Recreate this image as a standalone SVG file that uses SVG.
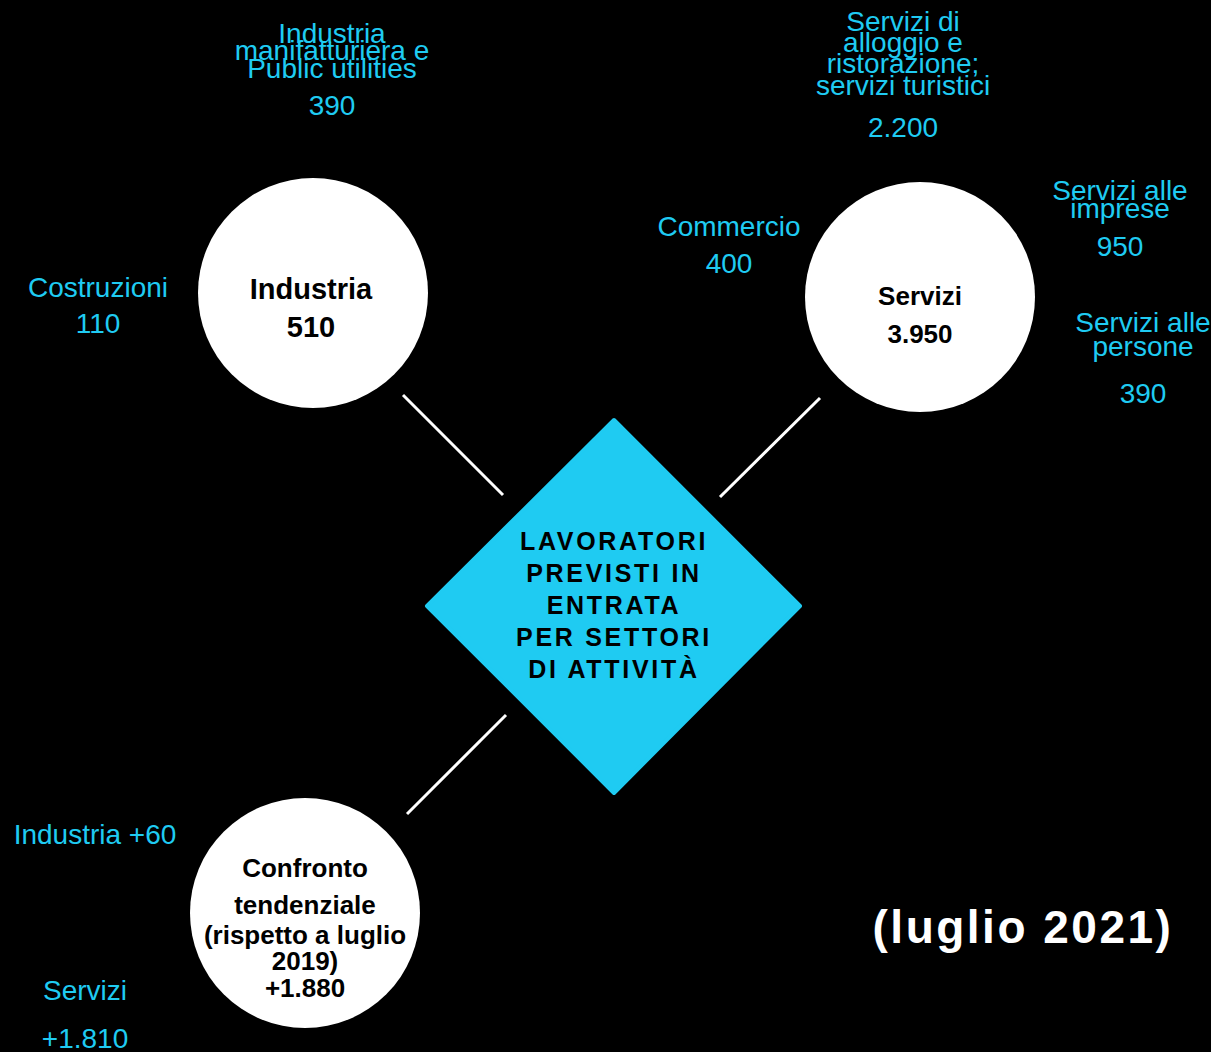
<svg xmlns="http://www.w3.org/2000/svg" width="1211" height="1052" viewBox="0 0 1211 1052">
<style>
.lbl{font-family:"Liberation Sans",Arial,sans-serif;font-size:28px;fill:#1fcbf2;text-anchor:middle}
.nd{font-family:"Liberation Sans",Arial,sans-serif;font-weight:bold;fill:#000;text-anchor:middle}
.circ{fill:#fff}
.conn line{stroke:#fff;stroke-width:3}
</style>
<rect width="1211" height="1052" fill="#000"/>
<g class="conn" id="connectors">
<line x1="403" y1="395" x2="503" y2="495"/>
<line x1="820" y1="398" x2="720" y2="497"/>
<line x1="506" y1="715" x2="407" y2="814"/>
</g>
<g id="center">
<path d="M614 420 L800 606 L614 793 L427 606 Z" fill="#1fcbf2" stroke="#1fcbf2" stroke-width="4" stroke-linejoin="round"/>
<g class="nd" style="font-size:25px;letter-spacing:2.7px">
<text x="614" y="550">LAVORATORI</text>
<text x="614" y="582">PREVISTI IN</text>
<text x="614" y="614">ENTRATA</text>
<text x="614" y="646">PER SETTORI</text>
<text x="614" y="678">DI ATTIVITÀ</text>
</g>
</g>
<g id="industria">
<circle class="circ" cx="313" cy="293" r="115"/>
<text class="nd" x="311" y="299" font-size="29">Industria</text>
<text class="nd" x="311" y="337" font-size="29">510</text>
</g>
<g id="servizi">
<circle class="circ" cx="920" cy="297" r="115"/>
<text class="nd" x="920" y="305" font-size="26">Servizi</text>
<text class="nd" x="920" y="343" font-size="26">3.950</text>
</g>
<g id="confronto">
<circle class="circ" cx="305" cy="913" r="115"/>
<g class="nd" font-size="26">
<text x="305" y="877">Confronto</text>
<text x="305" y="914">tendenziale</text>
<text x="305" y="944">(rispetto a luglio</text>
<text x="305" y="970">2019)</text>
<text x="305" y="997">+1.880</text>
</g>
</g>
<g id="lbl-manifattura" class="lbl">
<text x="332" y="43">Industria</text>
<text x="332" y="60">manifatturiera e</text>
<text x="332" y="78">Public utilities</text>
<text x="332" y="115">390</text>
</g>
<g id="lbl-alloggio" class="lbl">
<text x="903" y="31">Servizi di</text>
<text x="903" y="52">alloggio e</text>
<text x="903" y="73">ristorazione;</text>
<text x="903" y="95">servizi turistici</text>
<text x="903" y="137">2.200</text>
</g>
<g id="lbl-imprese" class="lbl">
<text x="1120" y="200">Servizi alle</text>
<text x="1120" y="218">imprese</text>
<text x="1120" y="256">950</text>
</g>
<g id="lbl-persone" class="lbl">
<text x="1143" y="332">Servizi alle</text>
<text x="1143" y="356">persone</text>
<text x="1143" y="403">390</text>
</g>
<g id="lbl-commercio" class="lbl">
<text x="729" y="236">Commercio</text>
<text x="729" y="273">400</text>
</g>
<g id="lbl-costruzioni" class="lbl">
<text x="98" y="297">Costruzioni</text>
<text x="98" y="333">110</text>
</g>
<g id="lbl-ind60" class="lbl">
<text x="95" y="844">Industria +60</text>
</g>
<g id="lbl-serv1810" class="lbl">
<text x="85" y="1000">Servizi</text>
<text x="85" y="1048">+1.810</text>
</g>
<text x="1023" y="943" font-family="Liberation Sans,Arial,sans-serif" font-weight="bold" font-size="46" letter-spacing="2.5" fill="#fff" text-anchor="middle">(luglio 2021)</text>
</svg>
